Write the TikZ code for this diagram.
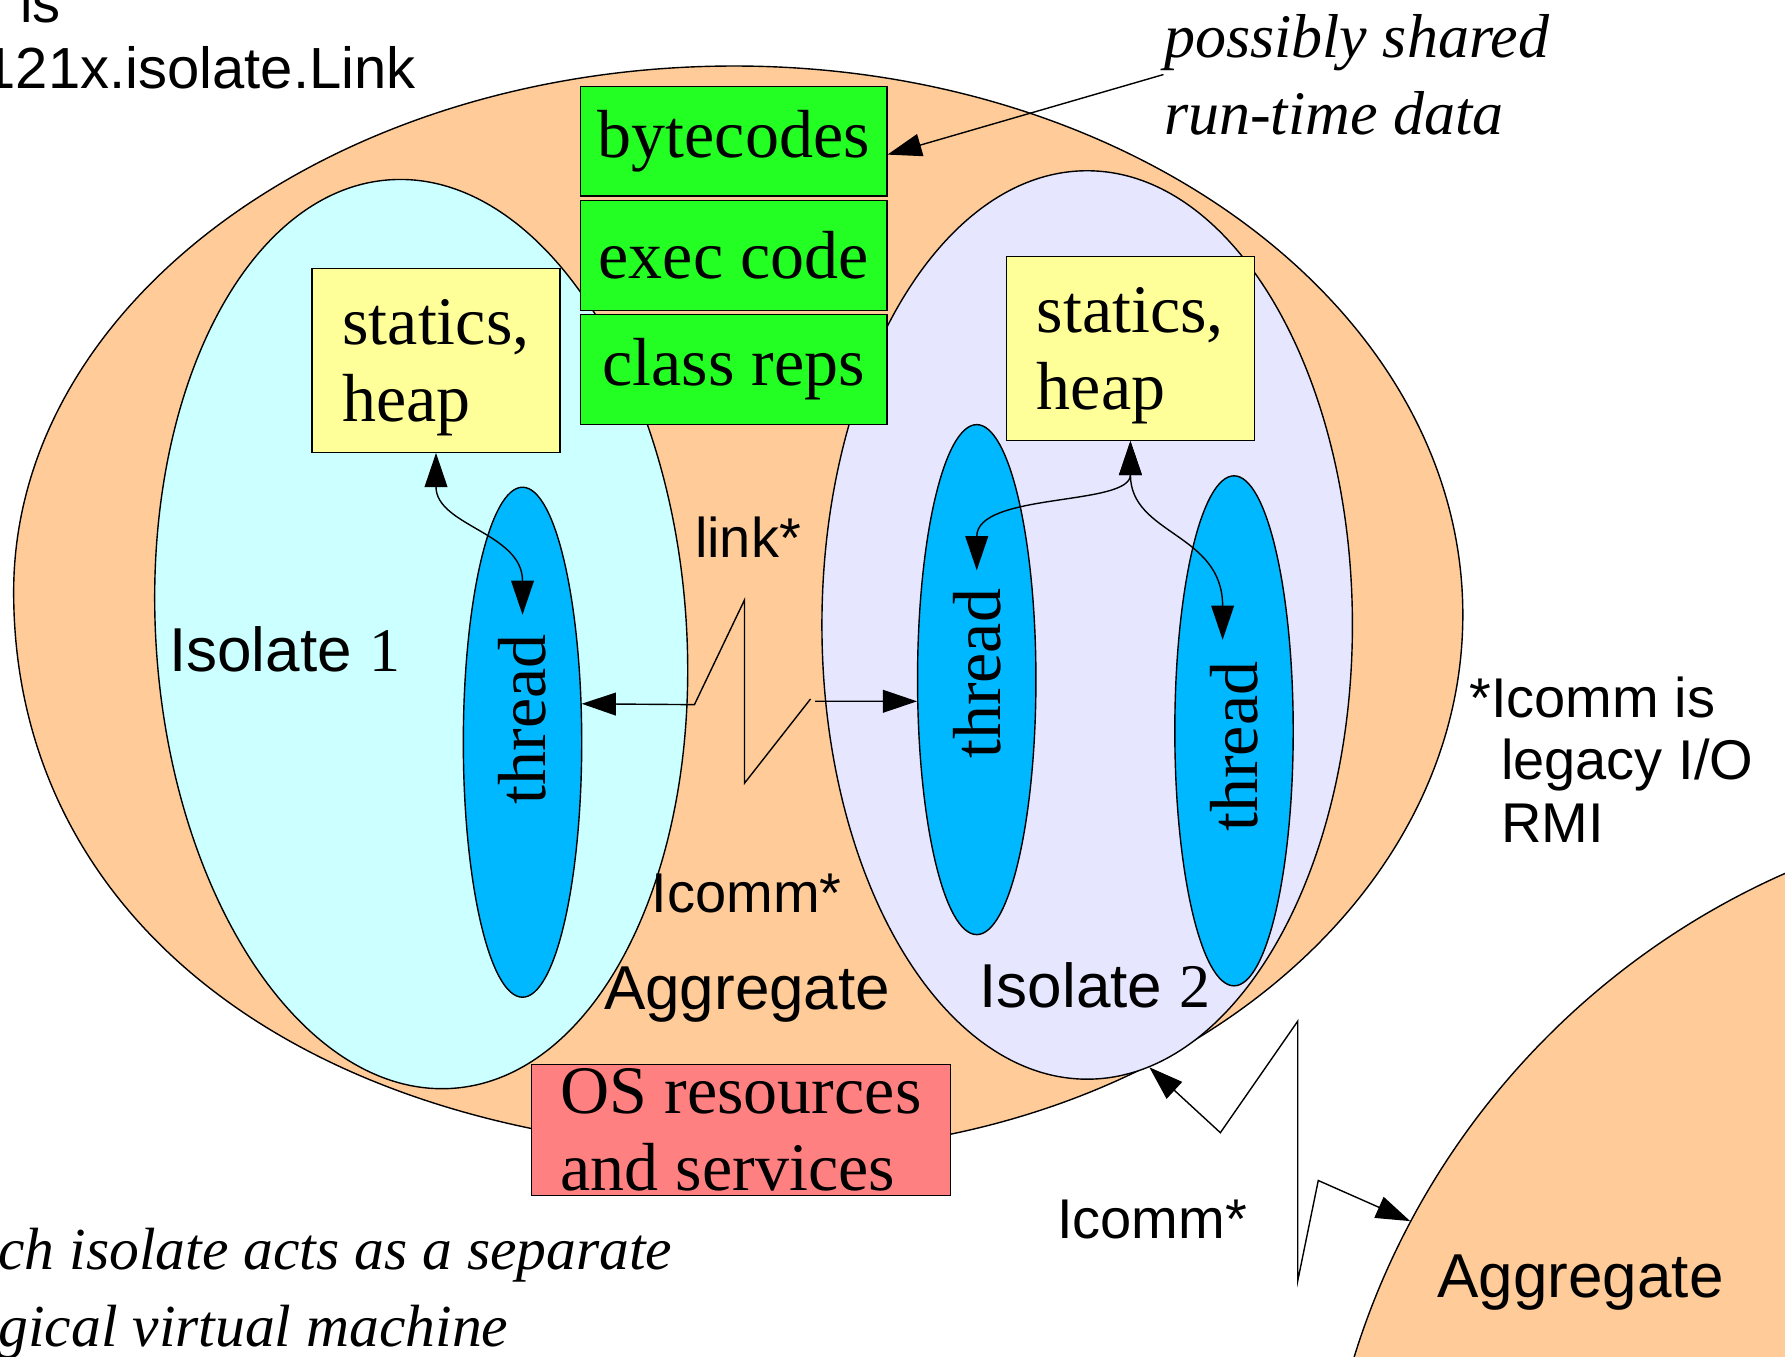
\documentclass[tikz,border=0pt]{standalone}
\usepackage{fontspec}
\setmainfont{Liberation Serif}
\setsansfont{Liberation Sans}
\usetikzlibrary{arrows.meta, shapes.geometric}
\definecolor{aggorange}{RGB}{255,204,153}
\definecolor{isocyan}{RGB}{204,255,255}
\definecolor{isolav}{RGB}{230,230,255}
\definecolor{codegreen}{RGB}{35,255,35}
\definecolor{heapyellow}{RGB}{255,255,153}
\definecolor{threadblue}{RGB}{0,184,255}
\definecolor{osred}{RGB}{255,128,128}
\newcommand{\figTip}{{Triangle[length=3mm, width=2mm]}}

\begin{document}
\begin{tikzpicture}[x=0.1mm, y=-0.1mm, line width=0.35pt,
	serifbig/.style={font=\fontsize{17}{19.2}\selectfont},
	sanstext/.style={font=\sffamily\fontsize{14}{16.5}\selectfont, inner sep=0, anchor=base west},
	sansbig/.style={font=\sffamily\fontsize{15.5}{18}\selectfont, inner sep=0, anchor=base west},
	note/.style={font=\itshape\fontsize{15.5}{19.3}\selectfont, align=left, inner sep=0, anchor=west},
	codebox/.style={serifbig, draw, fill=codegreen, minimum width=26.9mm, minimum height=9.65mm, inner sep=0},
	heapbox/.style={draw, fill=heapyellow, align=left, minimum width=21.8mm, minimum height=16.15mm, inner sep=0, text depth=0pt, font=\fontsize{17}{19.3}\selectfont},
	osbox/.style={draw, fill=osred, align=left, minimum width=36.8mm, minimum height=11.5mm, inner sep=0, font=\fontsize{17}{19.06}\selectfont},
	isolate/.style={ellipse, draw, minimum width=46.6mm, minimum height=80mm, inner sep=0},
	threadell/.style={ellipse, draw, fill=threadblue, minimum width=10.4mm, minimum height=44.8mm, inner sep=0},
	threadlbl/.style={serifbig, rotate=90, inner sep=0}]
	\useasboundingbox (0,0) rectangle (1568,1192);
	\clip (0,0) rectangle (1568,1192);
	
	% the aggregate
	\draw[fill=aggorange] (645,58) .. controls (998,58) and (1285,274) .. (1285,540)
		.. controls (1285,800) and (1014,1012) .. (680,1012)
		.. controls (279,1012) and (12,815) .. (12,520)
		.. controls (12,265) and (296,58) .. cycle;
	
	\node[isolate, fill=isocyan, rotate=4] (iso1) at (370,557) {};
	\node[isolate, fill=isolav, minimum height=79.8mm] (iso2) at (955,549) {};
	
	% shared run-time data
	\node[codebox] (bytecodes) at (644.5,124) {bytecodes};
	\node[codebox] (execcode) at (644.5,224.5) {exec code};
	\node[codebox] (classreps) at (644.5,324.5) {class reps};
	
	\node[heapbox] (heap1) at (383,316.5) {statics,\\heap};
	\node[heapbox] (heap2) at (993,306) {statics,\\heap};
	
	% threads
	\node[threadell] (thread1) at (459,652) {};
	\node[threadell] (thread2) at (858,597) {};
	\node[threadell] (thread3) at (1084,642) {};
	\node[threadlbl] (thread1lbl) at (459,632) {thread};
	\node[threadlbl] (thread2lbl) at (858,592) {thread};
	\node[threadlbl] (thread3lbl) at (1084,656) {thread};
	
	\coordinate (th1in) at (459,540);
	\coordinate (th2in) at (858,501);
	\coordinate (th3in) at (1074,562);
	\draw[\figTip-\figTip] (heap1.south) .. controls (383,462) and (459,468) .. (th1in);
	\draw[\figTip-\figTip] (heap2.south) .. controls (993,445) and (858,432) .. (th2in);
	\draw[\figTip-\figTip] (heap2.south) .. controls (993,470) and (1074,468) .. (th3in);
	
	% link between isolates
	\coordinate (lnkL) at (712,614);
	\coordinate (lnkR) at (716,616);
	\draw[\figTip-] (thread1.33) -- (610,619) -- (654,527) -- (654,688) -- (lnkL);
	\draw[-\figTip] (lnkR) -- (thread2.200);
	
	\node[osbox] (osres) at (651,992.5) {OS resources\\and services};
	
	% second aggregate
	\node[draw, circle, fill=aggorange, minimum size=137.2mm, inner sep=0] (agg2) at (1845,1395) {};
	\draw[\figTip-\figTip] (iso2.-82) -- (1072,995) -- (1140,897) -- (1140,1125) -- (1158,1037) -- (agg2.152.5);
	
	% labels
	\node[sanstext] (isword) at (17,20) {is};
	\node[sanstext, font=\sffamily\fontsize{14.5}{17}\selectfont] (linkclass) at (-15,78) {121x.isolate.Link};
	\node[note] (shared) at (1022,65.5) {possibly shared\\run-time data};
	\draw[-\figTip] (shared.west) -- (bytecodes.-5.5);
	\node[note, font=\itshape\fontsize{14.9}{19.3}\selectfont] (eachiso) at (-2,1136.5) {ch isolate acts as a separate\\gical virtual machine};
	\node[sanstext] (linklbl) at (610,490) {link*};
	\node[sanstext] (icomm1) at (572,802) {Icomm*};
	\node[sansbig] (agglbl1) at (530,887) {Aggregate};
	\node[sansbig] (iso1lbl) at (148,590) {Isolate {\rmfamily 1}};
	\node[sansbig] (iso2lbl) at (860,885) {Isolate {\rmfamily 2}};
	\node[sanstext] (icomm2) at (928,1088) {Icomm*};
	\node[sansbig] (agglbl2) at (1262,1140) {Aggregate};
	\node[sanstext] (legacy1) at (1290,630) {*Icomm is};
	\node[sanstext] (legacy2) at (1318,685) {legacy I/O};
	\node[sanstext] (legacy3) at (1318,740) {RMI};
\end{tikzpicture}
\end{document}
